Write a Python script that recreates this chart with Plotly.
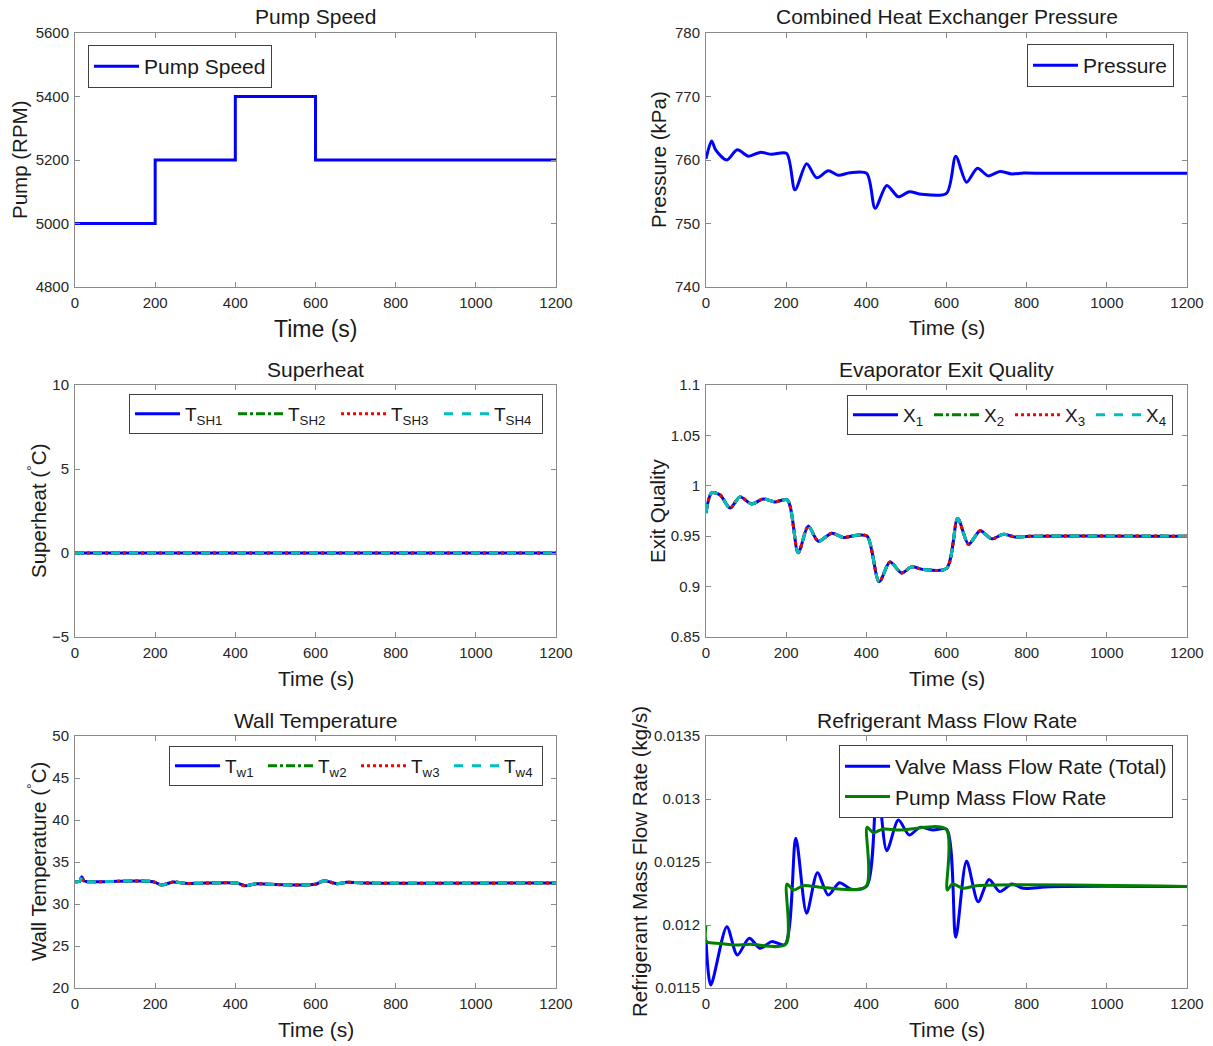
import plotly.graph_objects as go

# ---------------- data ----------------
# Pump speed set-point schedule (RPM)
pump_time = [0, 200, 400, 600, 1200]
pump_speed = [5000, 5200, 5400, 5200, 5200]

# Combined heat exchanger pressure (kPa)
pressure_time = [0, 14, 24, 52, 78, 106, 135, 164, 201, 222, 251, 276, 305, 330, 359, 401,
                 422, 451, 480, 507, 538, 600, 623, 650, 677, 704, 733, 763, 792, 850, 1200]
pressure = [760.2, 763.0, 761.6, 760.0, 761.6, 760.6, 761.2, 760.9, 761.05, 755.3, 759.4, 757.2,
            758.3, 757.6, 758.0, 757.9, 752.4, 756.0, 754.2, 755.0, 754.6, 754.75, 760.6, 756.5,
            758.7, 757.5, 758.2, 757.8, 757.95, 757.9, 757.9]

# Evaporator superheat (all four evaporators stay saturated)
superheat_time = [0, 1200]
superheat = [0, 0]

# Evaporator exit quality (identical for the four evaporators)
quality_time = [0, 14, 35, 60, 85, 114, 143, 172, 203, 230, 255, 280, 314, 343, 376, 402, 432,
                459, 488, 513, 542, 600, 628, 655, 684, 713, 742, 771, 808, 1200]
quality = [0.973, 0.993, 0.991, 0.978, 0.989, 0.982, 0.987, 0.984, 0.986, 0.9335, 0.960, 0.945,
           0.953, 0.9487, 0.951, 0.950, 0.9047, 0.9245, 0.9136, 0.9196, 0.917, 0.918, 0.9675,
           0.942, 0.9553, 0.9474, 0.952, 0.9493, 0.950, 0.950]

# Wall temperature (deg C), identical for the four evaporators
wall_time = [0, 12, 17, 22, 30, 195, 216, 245, 274, 403, 424, 453, 487, 599, 621, 653, 678, 720, 1200]
wall_temp = [32.66, 32.7, 33.25, 32.75, 32.66, 32.66, 32.26, 32.62, 32.46, 32.5, 32.18, 32.42,
             32.34, 32.34, 32.78, 32.42, 32.58, 32.5, 32.5]

# Refrigerant mass flow rates (kg/s)
valve_time = [0, 12, 52, 78, 108, 135, 164, 197, 224, 251, 278, 305, 333, 363, 401, 427, 451,
              480, 507, 534, 567, 600, 623, 650, 679, 706, 733, 763, 792, 858, 1200]
valve_flow = [0.01188, 0.011524, 0.011987, 0.011762, 0.011894, 0.011815, 0.011868, 0.011845,
              0.012688, 0.012093, 0.012415, 0.012238, 0.012336, 0.012283, 0.01231, 0.01315,
              0.01259, 0.012833, 0.012714, 0.012775, 0.012754, 0.01276, 0.011902, 0.012508,
              0.012185, 0.012362, 0.012265, 0.012325, 0.012291, 0.012304, 0.012305]
pump_flow_time = [0, 1, 35, 68, 110, 199, 202, 218, 243, 284, 399, 402, 417, 442, 484, 599, 602,
                  615, 642, 675, 1200]
pump_flow = [0.012, 0.01187, 0.011854, 0.011841, 0.011847, 0.011847, 0.012325, 0.012278,
             0.012312, 0.0123, 0.012305, 0.012775, 0.012733, 0.012762, 0.012754, 0.01276,
             0.012278, 0.012325, 0.012291, 0.012312, 0.012305]

quality_ticks = [0.85, 0.9, 0.95, 1.0, 1.05, 1.1]
quality_ticktext = ["0.85", "0.9", "0.95", "1", "1.05", "1.1"]
flow_ticks = [0.0115, 0.012, 0.0125, 0.013, 0.0135]
flow_ticktext = ["0.0115", "0.012", "0.0125", "0.013", "0.0135"]

# ---------------- style ----------------
W, H = 1213, 1046
FONT = "Liberation Sans, Arial, Helvetica, sans-serif"
TXT = "#262626"
AX = "#8a8a8a"
BLUE, GREEN, RED, CYAN = "#0000FF", "#008000", "#FF0000", "#00BFBF"
LW = 3

def px_x(p):
    return p / W

def px_y(p):
    return 1 - p / H

# panel boxes in pixels: (left, right, top, bottom)
COLS = [(75, 556), (706, 1187)]
ROWS = [(33, 287), (385, 637), (736, 988)]

fig = go.Figure()

def add_line(x, y, axis_idx, color, dash, name, legend, show, shape="spline"):
    fig.add_trace(go.Scatter(
        x=x, y=y, mode="lines", name=name,
        line=dict(color=color, width=LW, dash=dash, shape=shape, smoothing=0.8),
        xaxis="x" if axis_idx == 1 else f"x{axis_idx}",
        yaxis="y" if axis_idx == 1 else f"y{axis_idx}",
        legend=legend, showlegend=show,
    ))

# 1: pump speed
add_line(pump_time, pump_speed, 1, BLUE, "solid", "Pump Speed", "legend", True, shape="hv")
# 2: pressure
add_line(pressure_time, pressure, 2, BLUE, "solid", "Pressure", "legend2", True)
# 3: superheat
styles = [(BLUE, "solid"), (GREEN, "dashdot"), (RED, "dot"), (CYAN, "dash")]
for i, (c, d) in enumerate(styles):
    add_line(superheat_time, superheat, 3, c, d, f"T<sub>SH{i+1}</sub>", "legend3", True, shape="linear")
# 4: exit quality
for i, (c, d) in enumerate(styles):
    add_line(quality_time, quality, 4, c, d, f"X<sub>{i+1}</sub>", "legend4", True)
# 5: wall temperature
for i, (c, d) in enumerate(styles):
    add_line(wall_time, wall_temp, 5, c, d, f"T<sub>w{i+1}</sub>", "legend5", True)
# 6: mass flow
add_line(valve_time, valve_flow, 6, BLUE, "solid", "Valve Mass Flow Rate (Total)", "legend6", True)
add_line(pump_flow_time, pump_flow, 6, GREEN, "solid", "Pump Mass Flow Rate", "legend6", True)

axis_base = dict(
    showline=True, linecolor=AX, linewidth=1, mirror="ticks",
    ticks="inside", ticklen=5, tickwidth=1, tickcolor=AX,
    showgrid=False, zeroline=False, automargin=False,
    tickfont=dict(family=FONT, size=15, color=TXT),
)

yspecs = [
    dict(range=[4800, 5600], tickvals=[4800, 5000, 5200, 5400, 5600]),
    dict(range=[740, 780], tickvals=[740, 750, 760, 770, 780]),
    dict(range=[-5, 10], tickvals=[-5, 0, 5, 10]),
    dict(range=[0.85, 1.1], tickvals=quality_ticks, ticktext=quality_ticktext),
    dict(range=[20, 50], tickvals=[20, 25, 30, 35, 40, 45, 50]),
    dict(range=[0.0115, 0.0135], tickvals=flow_ticks, ticktext=flow_ticktext),
]

layout = dict(
    template="none",
    width=W, height=H, autosize=False,
    margin=dict(l=0, r=0, t=0, b=0, pad=0, autoexpand=False),
    paper_bgcolor="white", plot_bgcolor="white",
    font=dict(family=FONT, color=TXT),
)

for k in range(6):
    r, c = divmod(k, 2)
    (xl, xr), (yt, yb) = COLS[c], ROWS[r]
    xa = "xaxis" if k == 0 else f"xaxis{k+1}"
    ya = "yaxis" if k == 0 else f"yaxis{k+1}"
    xname = "x" if k == 0 else f"x{k+1}"
    yname = "y" if k == 0 else f"y{k+1}"
    layout[xa] = dict(axis_base, domain=[px_x(xl), px_x(xr)], range=[0, 1200],
                      tickvals=[0, 200, 400, 600, 800, 1000, 1200], anchor=yname,
                      ticklabelstandoff=2)
    layout[ya] = dict(axis_base, domain=[px_y(yb), px_y(yt)], anchor=xname,
                      ticklabelstandoff=2, **yspecs[k])

fig.update_layout(**layout)

# legends
def legend_box(xpx, ypx, xanchor, horizontal=False, size=21, entrywidth=None):
    d = dict(
        x=px_x(xpx), y=px_y(ypx), xanchor=xanchor, yanchor="top",
        xref="paper", yref="paper",
        bgcolor="white", bordercolor="#404040", borderwidth=1,
        font=dict(family=FONT, size=size, color="#1a1a1a"),
        itemwidth=45, tracegroupgap=0,
        orientation="h" if horizontal else "v",
    )
    if entrywidth:
        d["entrywidth"] = entrywidth
        d["entrywidthmode"] = "pixels"
    return d

fig.update_layout(
    legend=legend_box(88, 45, "left"),
    legend2=legend_box(1174, 44, "right"),
    legend3=legend_box(543, 394, "right", True, 19, 43),
    legend4=legend_box(1173, 395, "right", True, 19, 21),
    legend5=legend_box(543, 746, "right", True, 19, 33),
    legend6=legend_box(1173, 745, "right"),
)

# titles and axis labels
titles = ["Pump Speed", "Combined Heat Exchanger Pressure", "Superheat",
          "Evaporator Exit Quality", "Wall Temperature", "Refrigerant Mass Flow Rate"]
title_y = [17, 17, 369, 369, 720, 720]
xlabel_y = [329, 327, 678, 678, 1029, 1029]
xlabel_size = [23, 21, 21, 21, 21, 21]
ylabels = ["Pump (RPM)", "Pressure (kPa)", "Superheat (<sup>°</sup>C)", "Exit Quality",
           "Wall Temperature (<sup>°</sup>C)", "Refrigerant Mass Flow Rate (kg/s)"]
ylabel_x = [20, 659, 37, 657, 37, 639]

annotations = []
for k in range(6):
    r, c = divmod(k, 2)
    (xl, xr), (yt, yb) = COLS[c], ROWS[r]
    xc = (xl + xr) / 2
    yc = (yt + yb) / 2
    annotations.append(dict(text=titles[k], x=px_x(xc), y=px_y(title_y[k]), xref="paper", yref="paper",
                            xanchor="center", yanchor="middle", showarrow=False,
                            font=dict(family=FONT, size=21, color="#1a1a1a")))
    annotations.append(dict(text="Time (s)", x=px_x(xc), y=px_y(xlabel_y[k]), xref="paper", yref="paper",
                            xanchor="center", yanchor="middle", showarrow=False,
                            font=dict(family=FONT, size=xlabel_size[k], color="#1a1a1a")))
    annotations.append(dict(text=ylabels[k], x=px_x(ylabel_x[k]), y=px_y(yc), xref="paper", yref="paper",
                            xanchor="center", yanchor="middle", showarrow=False, textangle=-90,
                            font=dict(family=FONT, size=20.5, color="#1a1a1a")))

fig.update_layout(annotations=annotations)

# page without body margin so the figure fills the window exactly
fig.write_html(
    "out.html",
    config={"displayModeBar": False},
    post_script="document.body.style.margin='0';document.body.style.overflow='hidden';",
)
